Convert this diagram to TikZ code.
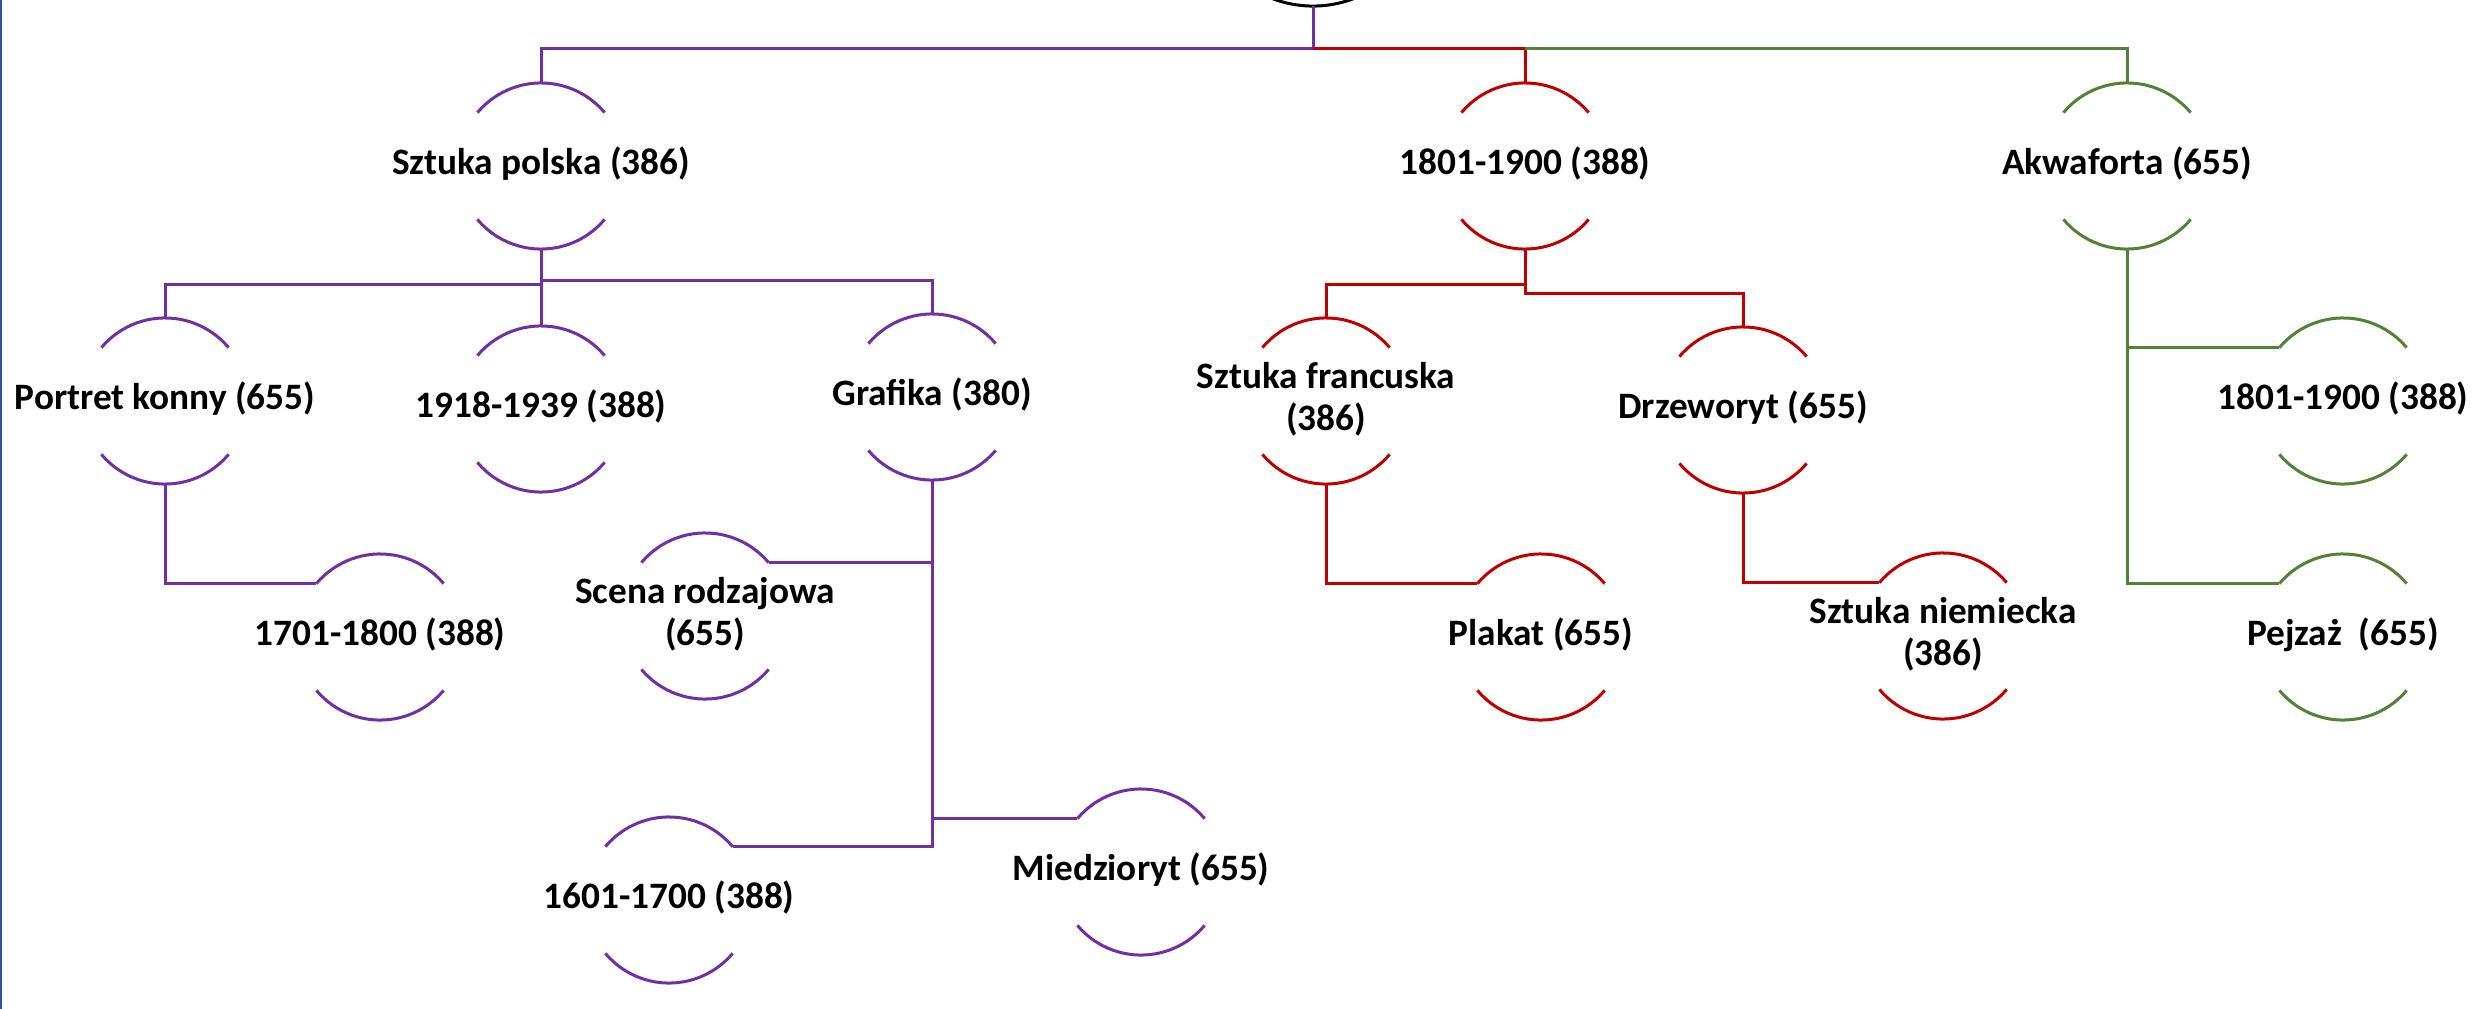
\documentclass[tikz,border=0pt]{standalone}
\usepackage{fontspec}
\setmainfont{Carlito}
\definecolor{purp}{HTML}{7030A0}
\definecolor{redc}{HTML}{C00000}
\definecolor{grn}{HTML}{538135}
\definecolor{edgeblue}{HTML}{2F5597}
\newcommand\nodetxt[1]{\makebox[0pt]{\raisebox{-0.9pt}{\begin{tabular}{@{}c@{}}#1\end{tabular}}}}
\newcommand\halfcirc[2]{\draw[#2,arcline] (#1.140) arc[start angle=140,end angle=40,radius=0.83cm] (#1.220) arc[start angle=220,end angle=320,radius=0.83cm];}
\begin{document}
\begin{tikzpicture}[x=0.01cm,y=0.01cm,
  hc/.style={circle, minimum size=1.66cm, inner sep=0pt, outer sep=0pt,
    font=\fontsize{10.6}{11.9}\selectfont\bfseries},
  rootc/.style={circle, minimum size=2.28cm, inner sep=0pt, outer sep=0pt},
  link/.style={line width=0.3mm},
  arcline/.style={line width=0.3mm},
]
\useasboundingbox (0,0) rectangle (2484,-1009);
\clip (0,0) rectangle (2484,-1009);
% left frame edge
\draw[edgeblue, line width=0.2mm] (1,0) -- (1,-1009);

% nodes
\node[rootc] (root) at (1313,108) {};
\node[hc] (sp)  at (541,-166)  {\nodetxt{Sztuka polska (386)}};
\node[hc] (r1)  at (1525,-166) {\nodetxt{1801-1900 (388)}};
\node[hc] (ak)  at (2127,-166) {\nodetxt{Akwaforta (655)}};
\node[hc] (pk)  at (165,-401)  {\nodetxt{Portret konny (655)}};
\node[hc] (t19) at (541,-409)  {\nodetxt{1918-1939 (388)}};
\node[hc] (gr)  at (932,-397)  {\nodetxt{Grafika (380)}};
\node[hc] (sf)  at (1326,-401) {\nodetxt{Sztuka francuska\\(386)}};
\node[hc] (dz)  at (1743,-410) {\nodetxt{Drzeworyt (655)}};
\node[hc] (g18) at (2343,-401) {\nodetxt{1801-1900 (388)}};
\node[hc] (a17) at (380,-637)  {\nodetxt{1701-1800 (388)}};
\node[hc] (sc)  at (705,-616)  {\nodetxt{Scena rodzajowa\\(655)}};
\node[hc] (pl)  at (1541,-637) {\nodetxt{Plakat (655)}};
\node[hc] (sn)  at (1943,-636) {\nodetxt{Sztuka niemiecka\\(386)}};
\node[hc] (pj)  at (2343,-637) {\nodetxt{Pejzaż\ \ (655)}};
\node[hc] (a16) at (669,-900)  {\nodetxt{1601-1700 (388)}};
\node[hc] (mi)  at (1141,-872) {\nodetxt{Miedzioryt (655)}};

% arcs
\draw[black,arcline] (root.220) arc[start angle=220,end angle=320,radius=1.14cm];
\halfcirc{sp}{purp}
\halfcirc{pk}{purp}
\halfcirc{t19}{purp}
\halfcirc{gr}{purp}
\halfcirc{a17}{purp}
\halfcirc{sc}{purp}
\halfcirc{a16}{purp}
\halfcirc{mi}{purp}
\halfcirc{r1}{redc}
\halfcirc{sf}{redc}
\halfcirc{dz}{redc}
\halfcirc{pl}{redc}
\halfcirc{sn}{redc}
\halfcirc{ak}{grn}
\halfcirc{g18}{grn}
\halfcirc{pj}{grn}

% connectors
\coordinate (bus) at (1313,-48.7);
\draw[link,purp] (root.south) -- (bus) -| (sp.north);
\draw[link,redc] (bus) -| (r1.north);
\draw[link,grn] (r1.north |- bus) -| (ak.north);

\draw[link,purp] (sp.south) -- ++(0,-35) -| (pk.north);
\draw[link,purp] (sp.south) -- ++(0,-31) -| (gr.north);
\draw[link,purp] (sp.south) -- (t19.north);
\draw[link,purp] (pk.south) |- (a17.140);
\draw[link,purp] (gr.south) |- (sc.40);
\draw[link,purp] (gr.south) |- (mi.140);
\draw[link,purp] (gr.south) |- (a16.40);

\draw[link,redc] (r1.south) -- ++(0,-35) -| (sf.north);
\draw[link,redc] (r1.south) -- ++(0,-44) -| (dz.north);
\draw[link,redc] (sf.south) |- (pl.140);
\draw[link,redc] (dz.south) |- (sn.140);

\draw[link,grn] (ak.south) |- (g18.140);
\draw[link,grn] (ak.south) |- (pj.140);
\end{tikzpicture}
\end{document}
